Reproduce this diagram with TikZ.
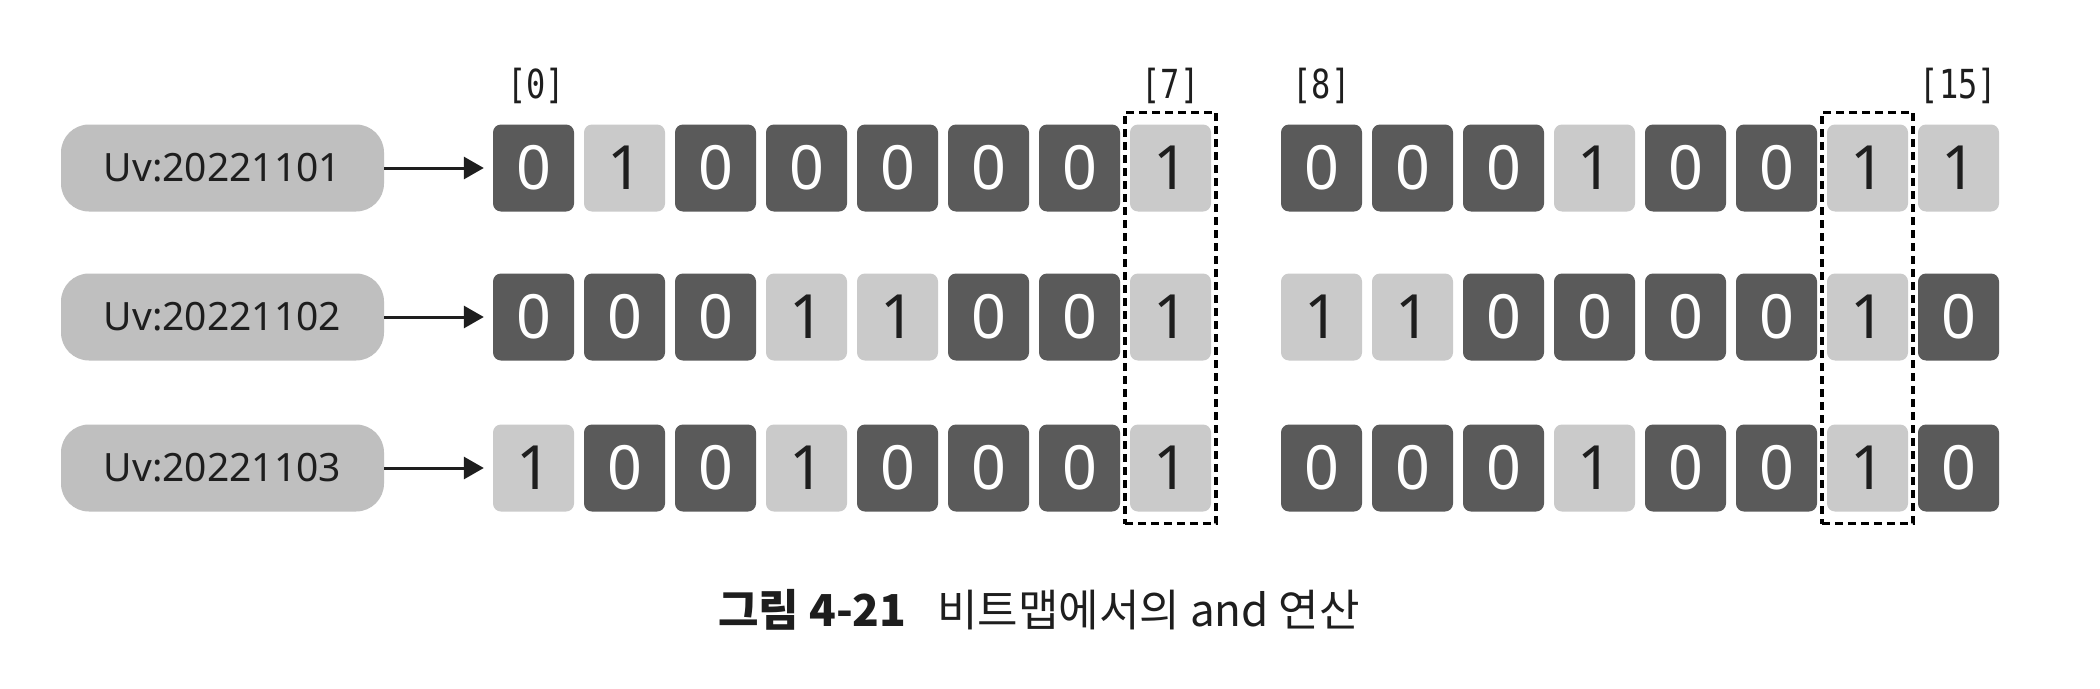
\documentclass[tikz,border=0pt]{standalone}
\usepackage{fontspec}
\setmainfont{Noto Sans}
\newfontfamily\monof[FakeStretch=0.8]{DejaVu Sans Mono}
\newfontfamily\krf{Noto Sans CJK KR}
\usetikzlibrary{arrows.meta,fit}
\definecolor{darkcell}{HTML}{5A5A5A}
\definecolor{lightcell}{HTML}{CACACA}
\definecolor{pillgray}{HTML}{BFBFBF}
\definecolor{ink}{HTML}{1E1E1E}
\tikzset{
  cellbox/.style={minimum width=81pt, minimum height=87pt, inner sep=0pt,
    rounded corners=8pt, font=\fontsize{61}{61}\selectfont},
  bit0/.style={cellbox, fill=darkcell, text=white},
  bit1/.style={cellbox, fill=lightcell, text=ink},
  pill/.style={fill=pillgray, rounded corners=28pt, minimum width=323pt,
    minimum height=87pt, inner sep=0pt, text=ink, font=\fontsize{39}{39}\selectfont},
  idx/.style={font=\monof\fontsize{40}{40}\selectfont, text=ink, inner sep=0pt},
  conn/.style={line width=3pt, draw=ink, -{Triangle[length=20pt,width=22pt]}, shorten >=9pt},
  selbox/.style={draw=black, line width=3.5pt, dash pattern=on 8pt off 5pt, inner xsep=5pt, inner ysep=12pt}
}
\begin{document}
\begin{tikzpicture}[x=1pt,y=-1pt]
\useasboundingbox (0,0) rectangle (2100,688);
\fill[white] (0,0) rectangle (2100,688);
\foreach \r/\y/\bits in {1/168/{0,1,0,0,0,0,0,1,0,0,0,1,0,0,1,1},
                         2/317/{0,0,0,1,1,0,0,1,1,1,0,0,0,0,1,0},
                         3/468/{1,0,0,1,0,0,0,1,0,0,0,1,0,0,1,0}}{
  \node[pill] (p\r) at (222.5,\y) {Uv:2022110\r};
  \foreach \b [count=\i from 0] in \bits {
    \pgfmathsetmacro\cx{\i<8 ? 533.5+91*\i : 1321.5+91*(\i-8)}
    \node[bit\b] (r\r c\i) at (\cx,\y) {\b};
  }
  \draw[conn] (p\r) -- (r\r c0);
}
\node[idx] (i0) at (536,86) {[0]};
\node[idx] (i7) at (1170.5,86) {[7]};
\node[idx] (i8) at (1321.5,86) {[8]};
\node[idx] (i15) at (1958.5,86) {[15]};
\node[selbox, fit=(r1c7)(r3c7)] (sel1) {};
\node[selbox, fit=(r1c14)(r3c14)] (sel2) {};
\node[font=\krf\fontsize{44}{44}\selectfont, text=ink, inner sep=0pt] (cap) at (1039,610)
  {{\bfseries 그림 4-21}\hspace{0.7em}비트맵에서의 and 연산};
\end{tikzpicture}
\end{document}
